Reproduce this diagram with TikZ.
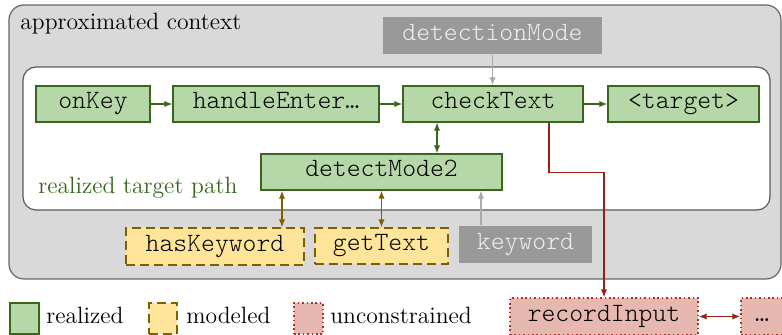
\documentclass[tikz,border=0pt]{standalone}
\usepackage{fontspec}
\setmonofont{lmmonolt10-regular.otf}
\usetikzlibrary{arrows.meta}
\definecolor{gfill}{HTML}{B6D7A8}
\definecolor{gdraw}{HTML}{38661D}
\definecolor{yfill}{HTML}{FFE599}
\definecolor{ydraw}{HTML}{7F6000}
\definecolor{rfill}{HTML}{E6B8AF}
\definecolor{rdraw}{HTML}{A8322A}
\definecolor{rarrow}{HTML}{992010}
\definecolor{ctxfill}{HTML}{D9D9D9}
\definecolor{ctxdraw}{HTML}{666666}
\definecolor{inbox}{HTML}{999999}
\definecolor{intext}{HTML}{EEEEEE}
\definecolor{inarrow}{HTML}{AAAAAA}
\newcommand\codefnt{\fontsize{13.2pt}{14pt}\selectfont\ttfamily}
\newcommand\serfnt{\fontsize{11.8pt}{13pt}\selectfont\rmfamily}
\tikzset{
  cbox/.style={rectangle, inner sep=0pt, font=\codefnt, text height=0.62em, text depth=0.12em, line width=0.7pt},
  realbox/.style={cbox, fill=gfill, draw=gdraw},
  modelbox/.style={cbox, fill=yfill, draw=ydraw, dash pattern=on 4.5pt off 2.5pt},
  unconbox/.style={cbox, fill=rfill, draw=rdraw, dash pattern=on 0.8pt off 1.4pt},
  inputbox/.style={cbox, fill=inbox, text=intext, draw=none},
  tip/.style={-{Latex[length=4pt,width=3.2pt]}},
  tips/.style={{Latex[length=4pt,width=3.2pt]}-{Latex[length=4pt,width=3.2pt]}},
  garr/.style={tip, draw=gdraw, line width=0.6pt},
  garr2/.style={tips, draw=gdraw, line width=0.6pt},
  yarr2/.style={tips, draw=ydraw, line width=0.6pt},
  iarr/.style={tip, draw=inarrow, line width=0.6pt},
  rarr/.style={tip, draw=rarrow, line width=0.6pt},
  rarr2/.style={tips, draw=rarrow, line width=0.9pt},
  lbl/.style={inner sep=0pt, font=\serfnt, anchor=base west},
}
\begin{document}
\begin{tikzpicture}[x=0.5pt,y=-0.5pt]
\useasboundingbox (0,0) rectangle (782,335);
\clip (0,0) rectangle (782,335);
% containers
\draw[fill=ctxfill, draw=ctxdraw, line width=0.6pt, rounded corners=7.5pt] (9,5) rectangle (781,279);
\node[lbl] (ctxlabel) at (20,30) {approximated context};
\draw[fill=white, draw=ctxdraw!90!black, line width=0.6pt, rounded corners=6.5pt] (23,67) rectangle (770,210);
\node[lbl, text=gdraw] (pathlabel) at (38,194) {realized target path};
% helper coordinates
\coordinate (x437) at (437,0);
\coordinate (x282) at (282,0);
\coordinate (x481) at (481,0);
\coordinate (x549) at (549,0);
% nodes
\node[inputbox, minimum width=109.5pt, minimum height=18.5pt] (detectionMode) at (492.5,35.5) {detectionMode};
\node[realbox, minimum width=57pt, minimum height=18pt] (onKey) at (93,104) {onKey};
\node[realbox, minimum width=103pt, minimum height=18pt] (handleEnter) at (276,104) {handleEnter\textellipsis};
\node[realbox, minimum width=90pt, minimum height=18pt] (checkText) at (493,104) {checkText};
\node[realbox, minimum width=75.5pt, minimum height=18pt] (target) at (683.5,104) {<target>};
\node[realbox, minimum width=120.5pt, minimum height=18pt] (detectMode2) at (381.5,172) {detectMode2};
\node[modelbox, minimum width=89pt, minimum height=18.5pt] (hasKeyword) at (215,246.5) {hasKeyword};
\node[modelbox, minimum width=66.5pt, minimum height=18pt] (getText) at (381.5,246) {getText};
\node[inputbox, minimum width=66.5pt, minimum height=18.5pt] (keyword) at (525.5,244.5) {keyword};
\node[unconbox, minimum width=94pt, minimum height=18.5pt] (recordInput) at (604,316.5) {recordInput};
\node[unconbox, minimum width=21pt, minimum height=18.5pt] (more) at (762,316.5) {\textellipsis};
% legend
\node[realbox, minimum width=14.5pt, minimum height=15.5pt] (legR) at (24.5,318.5) {};
\node[lbl] (legRt) at (46,324) {realized};
\node[modelbox, minimum width=14pt, minimum height=15.5pt] (legM) at (163,318.5) {};
\node[lbl] (legMt) at (186,324) {modeled};
\node[unconbox, minimum width=14.5pt, minimum height=15.5pt] (legU) at (308.5,318.5) {};
\node[lbl] (legUt) at (330,324) {unconstrained};
% connectors
\draw[garr] (onKey) -- (handleEnter);
\draw[garr] (handleEnter) -- (checkText);
\draw[garr] (checkText) -- (target);
\draw[iarr] (detectionMode.south) -- (detectionMode.south |- checkText.north);
\draw[garr2] (checkText.south -| x437) -- (detectMode2.north -| x437);
\draw[yarr2] (detectMode2.south -| x282) -- (hasKeyword.north -| x282);
\draw[yarr2] (detectMode2.south) -- (getText.north);
\draw[iarr] (keyword.north -| x481) -- (detectMode2.south -| x481);
\draw[rarr] (checkText.south -| x549) -- ++(0,50) -| (recordInput.north);
\draw[rarr2] (recordInput) -- (more);
\end{tikzpicture}
\end{document}
